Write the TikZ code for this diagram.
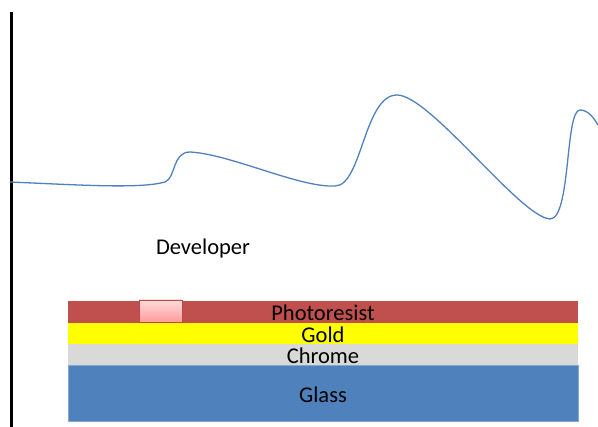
\documentclass[tikz,border=0pt]{standalone}
\usepackage{fontspec}
\setmainfont{Carlito}
\usetikzlibrary{shadows}
\definecolor{curveblue}{HTML}{4F81BD}
\definecolor{resistred}{HTML}{C0504D}
\definecolor{goldyellow}{HTML}{FFFF00}
\definecolor{chromegray}{HTML}{D9D9D9}
\definecolor{glassblue}{HTML}{4F81BD}
\definecolor{pinktop}{HTML}{FFDADA}
\definecolor{pinkbot}{HTML}{FF9C9C}
\definecolor{pinkedge}{HTML}{B84A48}
\tikzset{
  layer/.style={inner sep=0pt, minimum width=510pt, text=black,
    font=\fontsize{22.5}{26}\selectfont},
  lbl/.style={inner sep=0pt, text=black, font=\fontsize{22.5}{26}\selectfont},
  wave/.style={draw=curveblue, line width=1.3pt},
  wall/.style={draw=black, line width=3pt},
  blob/.style={draw=pinkedge, line width=0.9pt, top color=pinktop, bottom color=pinkbot,
    minimum width=43pt, minimum height=22pt, inner sep=0pt,
    drop shadow={shadow xshift=1pt, shadow yshift=-1.5pt, opacity=0.35}}
}
\begin{document}
\begin{tikzpicture}[x=1pt, y=-1pt]
\useasboundingbox (0,0) rectangle (598,427);
% layers
\node[layer, fill=resistred, minimum height=22pt] (resist) at (323,312) {};
\node[layer, fill=goldyellow, minimum height=21pt] (gold) at (323,333.5) {};
\node[layer, fill=chromegray, minimum height=21pt] (chrome) at (323,354.5) {};
\node[layer, fill=glassblue, draw=glassblue!70!white, line width=0.6pt, minimum height=56pt] (glass) at (323,393) {};
\node[blob] (dot) at (160.5,311) {};
\node[lbl] (resistlbl) at (323,313) {Photoresist};
\node[lbl] (goldlbl) at (323,334.5) {Gold};
\node[lbl] (chromelbl) at (323,355.5) {Chrome};
\node[lbl] (glasslbl) at (323,395) {Glass};
% developer label
\node[lbl] (dev) at (203,249) {Developer};
% wall
\coordinate (walltop) at (11,12);
\coordinate (wallbot) at (11,427);
\draw[wall] (walltop) -- (wallbot);
% wave
\coordinate (w0) at (10,182);
\coordinate (w1) at (165,182);
\coordinate (w2) at (190,152);
\coordinate (w3) at (335,186);
\coordinate (w4) at (397,95);
\coordinate (w5) at (550,219);
\coordinate (w6) at (580,110);
\coordinate (w7) at (598,125);
\draw[wave] (w0) .. controls (80,185) and (140,189) .. (w1)
  .. controls (176,178) and (172,152) .. (w2)
  .. controls (230,154) and (300,188) .. (w3)
  .. controls (362,186) and (364,95) .. (w4)
  .. controls (430,95) and (520,217) .. (w5)
  .. controls (571,219) and (565,110) .. (w6)
  .. controls (588,110) and (594,118) .. (w7);
\end{tikzpicture}
\end{document}
